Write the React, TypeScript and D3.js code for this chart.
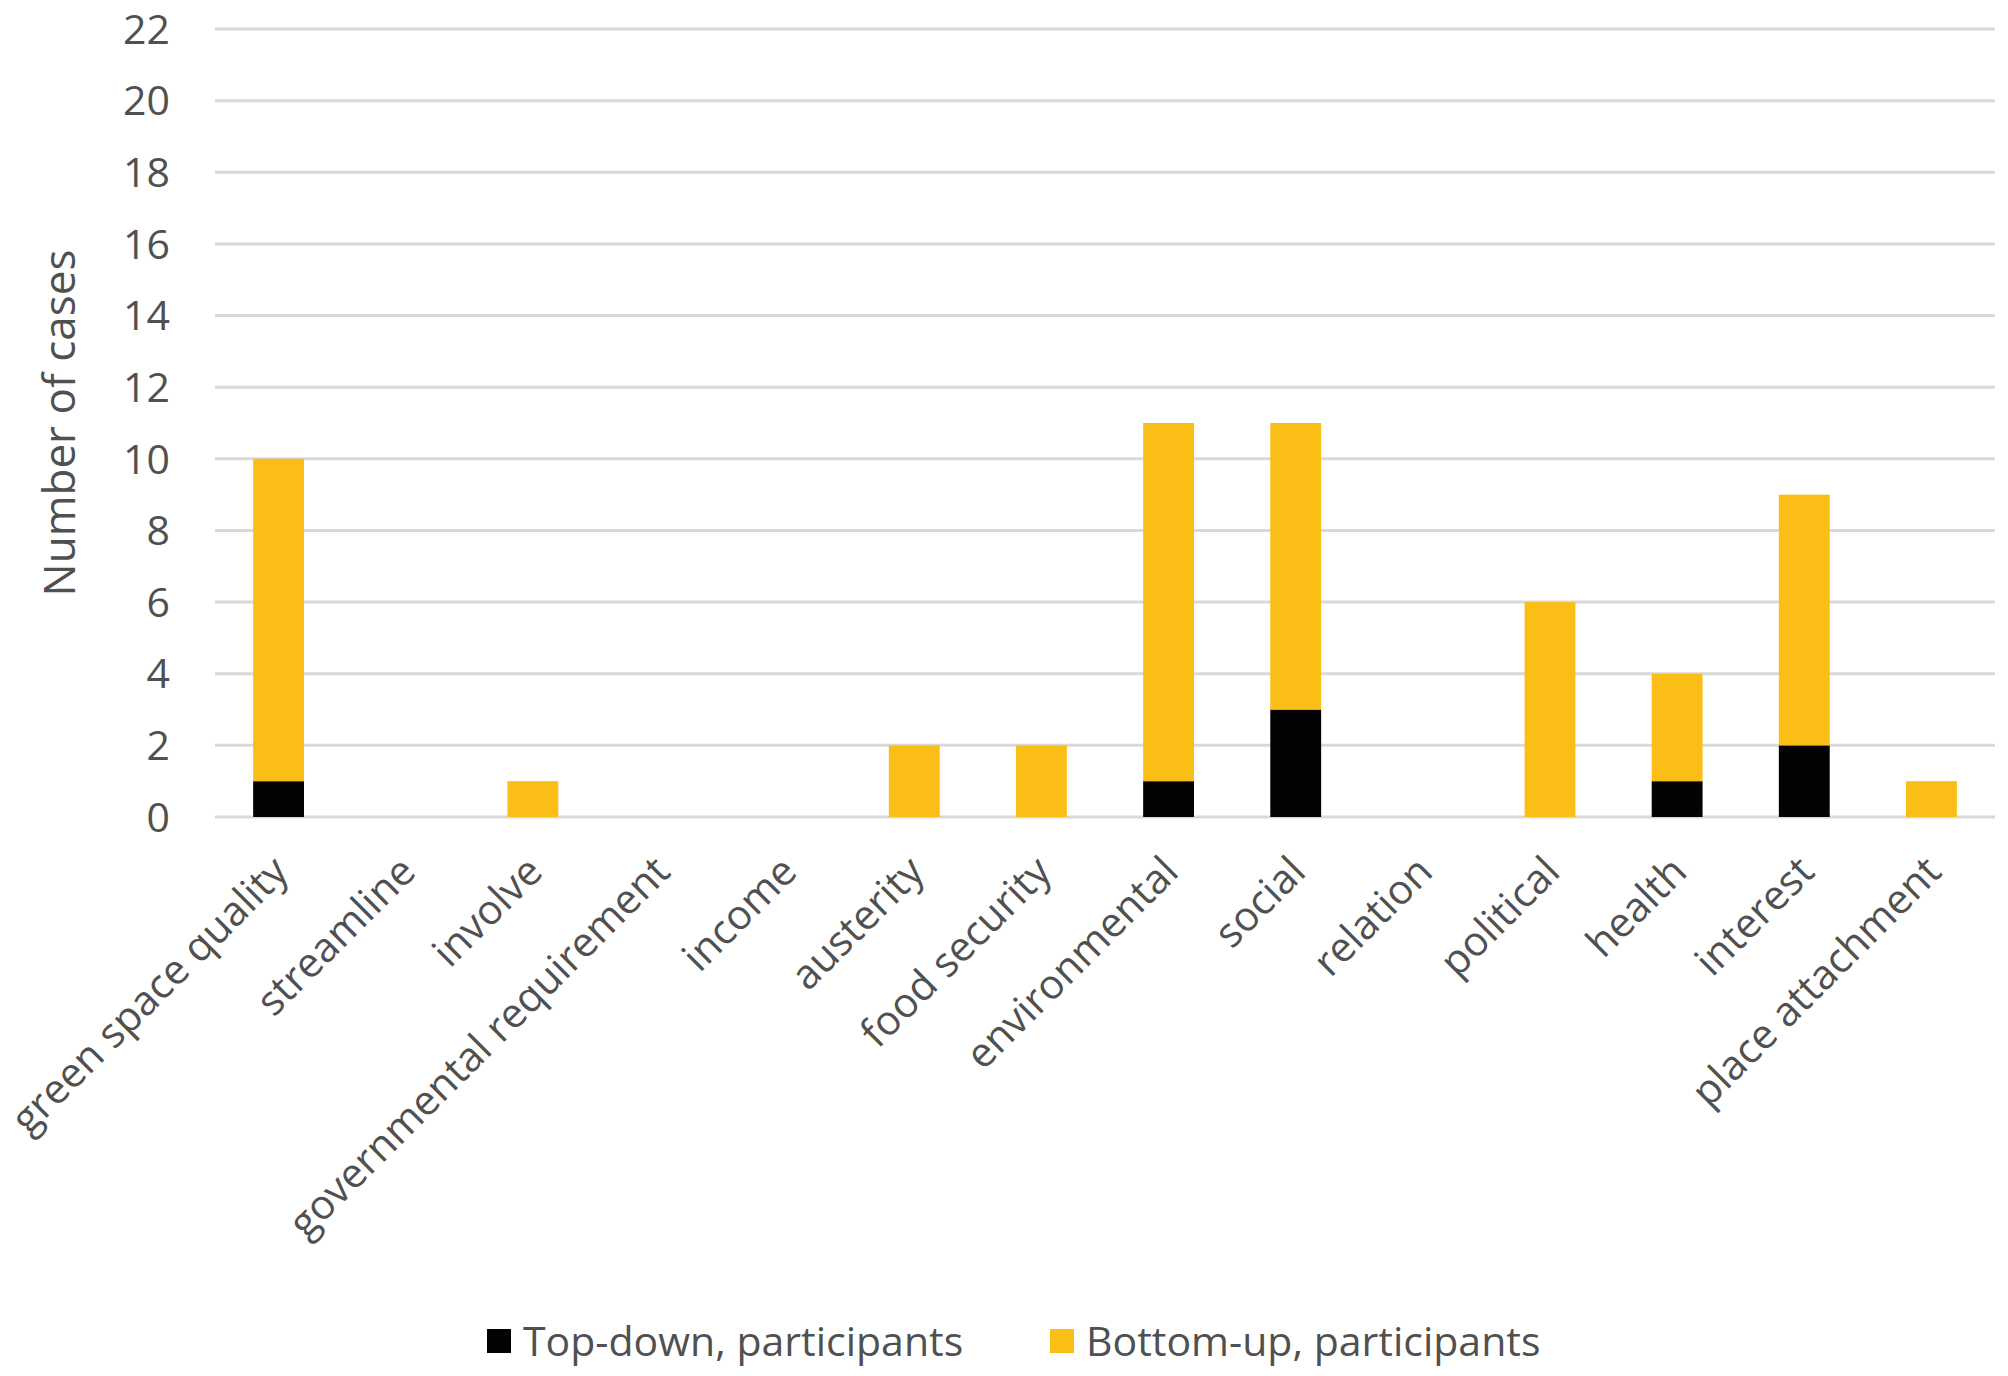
import { useEffect } from "react";
import * as d3 from "d3";

// categories and stacked series
const categories = [
    "green space quality",
    "streamline",
    "involve",
    "governmental requirement",
    "income",
    "austerity",
    "food security",
    "environmental",
    "social",
    "relation",
    "political",
    "health",
    "interest",
    "place attachment",
];
const topDown = [1, 0, 0, 0, 0, 0, 0, 1, 3, 0, 0, 1, 2, 0];
const bottomUp = [9, 0, 1, 0, 0, 2, 2, 10, 8, 0, 6, 3, 7, 1];
const seriesNames = ["Top-down, participants", "Bottom-up, participants"];
const yTicks = [0, 2, 4, 6, 8, 10, 12, 14, 16, 18, 20, 22];

const W = 2008;
const H = 1376;
const FONT = "'Open Sans', 'DejaVu Sans', sans-serif";
const TEXT = "#505050";
const COLORS = ["#030305", "#FBBE17"];

export default function App() {
    useEffect(() => {
        document.body.style.margin = "0";
    }, []);

    const m = { top: 29, right: 13, bottom: 559, left: 215 };
    const w = W - m.left - m.right;
    const h = H - m.top - m.bottom;

    const x = d3.scaleBand<string>().domain(categories).range([0, w]).paddingInner(0.6).paddingOuter(0.3);
    const y = d3.scaleLinear().domain([0, 22]).range([h, 0]);

    const rows = categories.map((c, i) => ({ cat: c, td: topDown[i], bu: bottomUp[i] }));
    const stacked = d3.stack<any>().keys(["td", "bu"])(rows);

    return (
        <svg width={W} height={H} style={{ display: "block", background: "#fff" }} fontFamily={FONT}>
            <g transform={`translate(${m.left},${m.top})`}>
                {/* gridlines */}
                {yTicks.map((t) => (
                    <line key={t} x1={0} x2={w} y1={y(t)} y2={y(t)} stroke="#D9D9D9" strokeWidth={3} />
                ))}
                {/* y tick labels */}
                {yTicks.map((t) => (
                    <text key={"l" + t} x={-45} y={y(t)} dy="0.36em" textAnchor="end" fontSize={41} fill={TEXT}>
                        {t}
                    </text>
                ))}
                {/* bars */}
                {stacked.map((s, si) => (
                    <g key={si} fill={COLORS[si]}>
                        {s.map((d, i) =>
                            d[1] - d[0] > 0 ? (
                                <rect
                                    key={i}
                                    x={x(categories[i])!}
                                    y={y(d[1])}
                                    width={x.bandwidth()}
                                    height={y(d[0]) - y(d[1])}
                                />
                            ) : null
                        )}
                    </g>
                ))}
                {/* category labels */}
                {categories.map((c) => {
                    const cx = x(c)! + x.bandwidth() / 2;
                    return (
                        <text
                            key={c}
                            transform={`translate(${cx + 12},${h + 57}) rotate(-45)`}
                            textAnchor="end"
                            fontSize={41}
                            fill={TEXT}
                        >
                            {c}
                        </text>
                    );
                })}
            </g>
            {/* y axis title */}
            <text
                transform={`translate(60,${m.top + h / 2}) rotate(-90)`}
                textAnchor="middle"
                dy="0.35em"
                fontSize={44}
                fill={TEXT}
            >
                Number of cases
            </text>
            {/* legend */}
            {seriesNames.map((n, i) => {
                const lx = [487, 1050][i];
                return (
                    <g key={n}>
                        <rect x={lx} y={1329} width={24} height={24} fill={COLORS[i]} />
                        <text x={lx + 36} y={1356} fontSize={41} fill={TEXT}>
                            {n}
                        </text>
                    </g>
                );
            })}
        </svg>
    );
}
